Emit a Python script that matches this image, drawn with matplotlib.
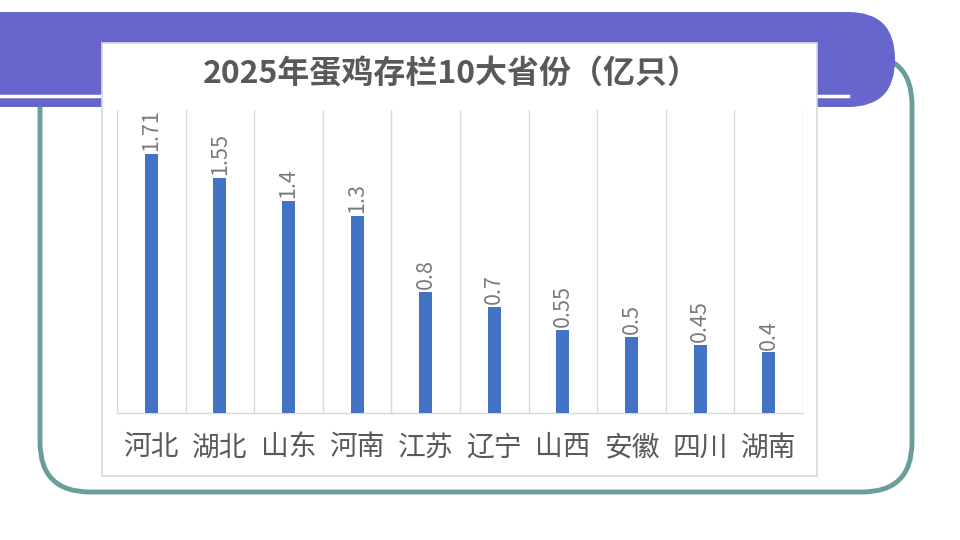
import matplotlib
matplotlib.use('Agg')
import matplotlib.pyplot as plt
from matplotlib.patches import FancyBboxPatch, Rectangle
from matplotlib.lines import Line2D

plt.rcParams['font.family'] = ['Noto Sans CJK SC', 'DejaVu Sans']

# data
provinces = ['河北', '湖北', '山东', '河南', '江苏', '辽宁', '山西', '安徽', '四川', '湖南']
stock = [1.71, 1.55, 1.4, 1.3, 0.8, 0.7, 0.55, 0.5, 0.45, 0.4]
valueLabels = ['1.71', '1.55', '1.4', '1.3', '0.8', '0.7', '0.55', '0.5', '0.45', '0.4']
pltTitle = '2025年蛋鸡存栏10大省份（亿只）'

W, H = 960, 540
DPI = 100
fig = plt.figure(figsize=(W / DPI, H / DPI), dpi=DPI)
fig.patch.set_facecolor('white')


def addRound(x0, y0, x1, y1, rad, **kw):
    # pixel box (top-left origin), drawn in inches so corners stay circular
    r = rad / DPI
    left = x0 / DPI + r
    bottom = (H - y1) / DPI + r
    w = (x1 - x0) / DPI - 2 * r
    h = (y1 - y0) / DPI - 2 * r
    p = FancyBboxPatch((left, bottom), w, h,
                       boxstyle='round,pad=%f,rounding_size=%f' % (r, r),
                       transform=fig.dpi_scale_trans, **kw)
    fig.add_artist(p)
    return p


# teal outline frame
addRound(40, 55, 912, 492, 50, facecolor='none', edgecolor='#6A9E9A', linewidth=3.5, zorder=1)

# purple banner
addRound(-80, 12, 895, 107, 47, facecolor='#6666CC', edgecolor='none', zorder=2)
fig.add_artist(Line2D([0, 848 / W], [1 - 96 / H, 1 - 96 / H], transform=fig.transFigure,
                      color='white', linewidth=2.5, zorder=3))

# white chart box
fig.add_artist(Rectangle((102 / W, 1 - 476 / H), 715 / W, 433 / H, transform=fig.transFigure,
                         facecolor='white', edgecolor='#D9D9D9', linewidth=1.2, zorder=4))

fig.text(451 / W, 1 - 74 / H, pltTitle, ha='center', va='center', fontsize=23,
         fontweight='bold', color='#595959', zorder=6)

# chart axes
ax = fig.add_axes([117 / W, 1 - 413 / H, 686 / W, 303 / H], zorder=5)
ax.patch.set_alpha(0)
x = list(range(len(provinces)))
bars = ax.bar(x, stock, width=0.19, color='#4472C4', zorder=3)

for b, lbl in zip(bars, valueLabels):
    ax.annotate(lbl, (b.get_x() + b.get_width() / 2, b.get_height()),
                xytext=(0, 2), textcoords='offset points', rotation=90,
                ha='center', va='bottom', fontsize=15.5, color='#7A7A7A',
                fontweight='light')

ax.set_xlim(-0.5, len(provinces) - 0.5)
ax.set_ylim(0, 2.0)
ax.set_xticks(x)
ax.set_xticklabels(provinces, fontsize=20, color='#595959', fontweight='light')
ax.set_xticks([i - 0.5 for i in range(len(provinces) + 1)], minor=True)
ax.tick_params(axis='x', which='both', length=0, pad=14)
ax.set_yticks([])
ax.xaxis.grid(True, which='minor', color='#D9D9D9', linewidth=1)
ax.xaxis.grid(False, which='major')
for s in ['top', 'left', 'right']:
    ax.spines[s].set_visible(False)
ax.spines['bottom'].set_color('#D9D9D9')
ax.spines['bottom'].set_linewidth(1)

fig.savefig('out.png', dpi=DPI)
